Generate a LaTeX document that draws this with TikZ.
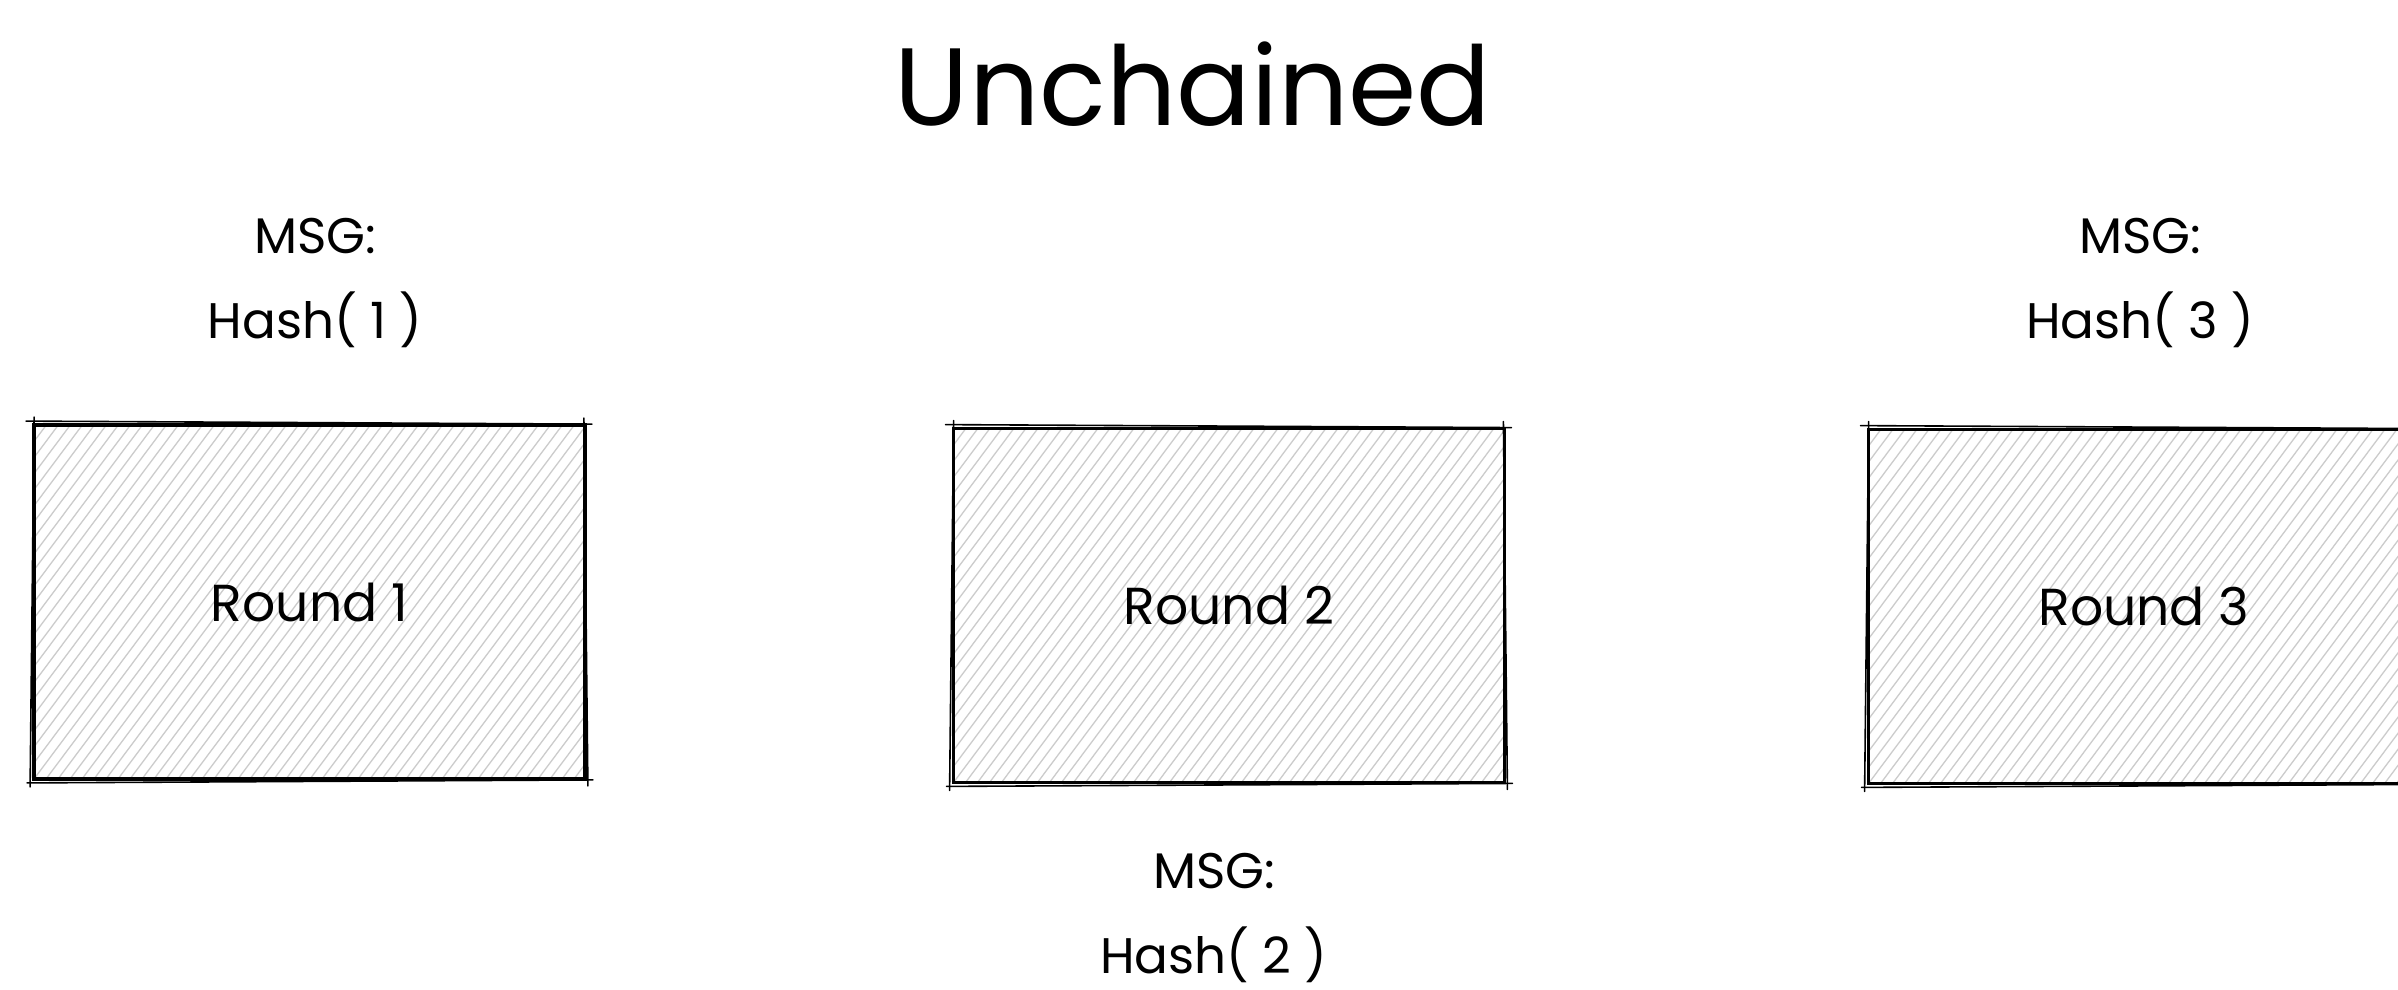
\documentclass[tikz,border=0pt]{standalone}
\usepackage{fontspec}
\setmainfont{Poppins}
\newcommand\sketchedges[1]{%
  \draw[sketchthin] ([shift={(-6pt,2pt)}]#1.north west) -- ([shift={(5pt,-1pt)}]#1.north east);
  \draw[sketchthin] ([shift={(-5pt,-2pt)}]#1.south west) -- ([shift={(6pt,1pt)}]#1.south east);
  \draw[sketchthin] ([shift={(2pt,6pt)}]#1.north west) -- ([shift={(-2pt,-6pt)}]#1.south west);
  \draw[sketchthin] ([shift={(-3pt,5pt)}]#1.north east) -- ([shift={(1pt,-5pt)}]#1.south east);
}
\begin{document}
\begin{tikzpicture}[x=1pt,y=-1pt]
\tikzset{
  hatchline/.style={draw=black!20, line width=1.3pt},
  sketchthin/.style={draw=black, line width=1.6pt, line cap=round},
  hatched/.style={path picture={
      \foreach \i in {-30,...,55} {
        \draw[hatchline] ([xshift=\i*12pt]path picture bounding box.south west) -- ++(280pt,375pt);
      }
  }},
  roundbox/.style={draw=black, line width=3.8pt, hatched, inner sep=0pt,
    minimum width=551pt, minimum height=354pt,
    font=\fontsize{52}{60}\selectfont},
  labeltext/.style={font=\fontsize{50}{85}\selectfont, align=center, inner sep=0pt},
  titletext/.style={font=\fontsize{110}{120}\selectfont, inner sep=0pt}
}
\clip (0,0) rectangle (2398,989);
\fill[white] (0,0) rectangle (2398,989);

\node[titletext] (title) at (1193,84) {Unchained};

\node[roundbox] (r1) at (309.5,602) {Round 1};
\node[roundbox] (r2) at (1229,605.5) {Round 2};
\node[roundbox] (r3) at (2144,606.5) {Round 3};
\sketchedges{r1}
\sketchedges{r2}
\sketchedges{r3}

\node[labeltext] (m1) at (315,283) {MSG:\\Hash( 1 )};
\node[labeltext] (m2) at (1214,918) {MSG:\\Hash( 2 )};
\node[labeltext] (m3) at (2140,283) {MSG:\\Hash( 3 )};
\end{tikzpicture}
\end{document}
